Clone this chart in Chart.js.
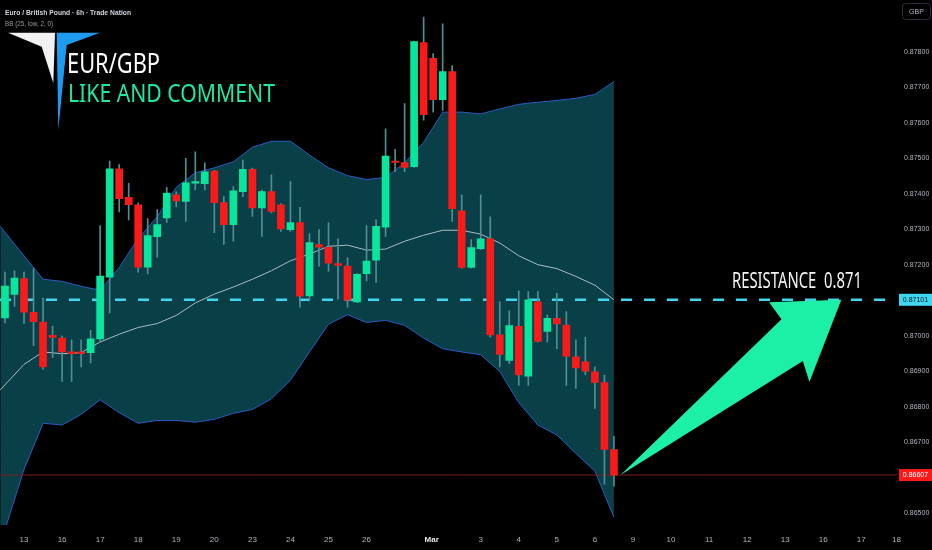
<!DOCTYPE html>
<html>
<head>
<meta charset="utf-8">
<title>EUR/GBP 6h</title>
<script src="https://cdn.jsdelivr.net/npm/chart.js@4.4.1/dist/chart.umd.min.js"></script>
<style>
html, body { margin:0; padding:0; background:#000; overflow:hidden; }
#canvas { display:block; }
</style>
</head>
<body>
<canvas id="canvas" width="932" height="550"></canvas>
<script>
// 6h candles, index 0 = first bar on the left
var opens  = [0.87050,0.87116,0.87161,0.87066,0.87038,0.87001,0.86993,0.86954,0.86954,0.86952,
              0.86991,0.87165,0.87470,0.87390,0.87369,0.87193,0.87279,0.87332,0.87397,0.87378,
              0.87430,0.87428,0.87464,0.87375,0.87313,0.87406,0.87469,0.87360,0.87406,0.87369,
              0.87299,0.87319,0.87112,0.87257,0.87249,0.87203,0.87196,0.87095,0.87175,0.87213,
              0.87306,0.87492,0.87488,0.87476,0.87826,0.87782,0.87665,0.87744,0.87352,0.87192,
              0.87245,0.87273,0.87002,0.86930,0.87026,0.86886,0.87095,0.87012,0.87049,0.87030,
              0.86940,0.86926,0.86898,0.86868,0.86679];
var highs  = [0.87179,0.87183,0.87179,0.87189,0.87106,0.87027,0.86999,0.86988,0.86988,0.87015,
              0.87310,0.87492,0.87482,0.87429,0.87374,0.87330,0.87355,0.87418,0.87405,0.87500,
              0.87518,0.87487,0.87466,0.87392,0.87420,0.87495,0.87472,0.87410,0.87453,0.87372,
              0.87434,0.87362,0.87288,0.87299,0.87318,0.87273,0.87220,0.87175,0.87310,0.87327,
              0.87583,0.87525,0.87654,0.87830,0.87898,0.87795,0.87879,0.87761,0.87397,0.87271,
              0.87397,0.87335,0.87095,0.87070,0.87126,0.87124,0.87124,0.87058,0.87119,0.87068,
              0.86988,0.86996,0.86912,0.86889,0.86716];
var lows   = [0.87036,0.87082,0.87034,0.86972,0.86905,0.86938,0.86871,0.86871,0.86912,0.86923,
              0.86981,0.87064,0.87349,0.87326,0.87179,0.87174,0.87221,0.87319,0.87363,0.87322,
              0.87411,0.87411,0.87290,0.87257,0.87266,0.87392,0.87336,0.87280,0.87346,0.87294,
              0.87294,0.87080,0.87098,0.87196,0.87182,0.87103,0.87080,0.87093,0.87154,0.87150,
              0.87280,0.87462,0.87462,0.87474,0.87607,0.87630,0.87635,0.87322,0.87190,0.87190,
              0.87243,0.86996,0.86912,0.86921,0.86860,0.86860,0.86982,0.86982,0.86963,0.86860,
              0.86851,0.86889,0.86795,0.86581,0.86576];
var closes = [0.87140,0.87162,0.87066,0.87039,0.86912,0.86995,0.86954,0.86949,0.86949,0.86991,
              0.87168,0.87470,0.87386,0.87369,0.87193,0.87282,0.87313,0.87402,0.87380,0.87431,
              0.87434,0.87462,0.87375,0.87313,0.87408,0.87469,0.87360,0.87406,0.87350,0.87301,
              0.87319,0.87111,0.87262,0.87249,0.87204,0.87198,0.87100,0.87173,0.87210,0.87308,
              0.87506,0.87488,0.87474,0.87829,0.87623,0.87665,0.87744,0.87358,0.87192,0.87248,
              0.87273,0.87002,0.86947,0.87028,0.86889,0.87101,0.86984,0.87049,0.87033,0.86942,
              0.86909,0.86900,0.86868,0.86679,0.86607];

// BB (25, low, 2, 0) every second bar
var bandIdx  = [-0.5,2,4,6,8,10,12,14,16,18,20,22,24,26,28,30,32,34,36,38,40,42,44,46,48,50,52,54,56,58,60,62,64];
var bbUpper  = [0.87308,0.87225,0.87159,0.87153,0.87139,0.87128,0.87192,0.87274,0.87335,0.87418,0.87459,
                0.87473,0.87490,0.87531,0.87548,0.87548,0.87509,0.87473,0.87451,0.87440,0.87446,0.87487,
                0.87545,0.87630,0.87630,0.87625,0.87639,0.87652,0.87658,0.87663,0.87669,0.87680,0.87716];
var bbMiddle = [0.86847,0.86919,0.86954,0.86949,0.86952,0.86982,0.87004,0.87023,0.87034,0.87057,0.87092,
                0.87117,0.87137,0.87159,0.87183,0.87211,0.87230,0.87252,0.87255,0.87241,0.87244,0.87266,
                0.87283,0.87297,0.87297,0.87286,0.87261,0.87225,0.87200,0.87189,0.87167,0.87142,0.87101];
var bbLower  = [0.86411,0.86623,0.86753,0.86748,0.86778,0.86819,0.86783,0.86753,0.86761,0.86761,0.86756,
                0.86764,0.86781,0.86792,0.86822,0.86874,0.86954,0.87032,0.87059,0.87037,0.87043,0.87029,
                0.86993,0.86963,0.86954,0.86946,0.86899,0.86811,0.86748,0.86720,0.86668,0.86618,0.86488];

var xTickIdx    = [2,6,10,14,18,22,26,30,34,38,44.85,50,54,58,62,66,70,74,78,82,86,90,93.7];
var xTickLabels = ['13','16','17','18','19','20','23','24','25','26','Mar','3','4','5','6','9','10','11','12','13','16','17','18'];
var yTickValues = [0.878,0.877,0.876,0.875,0.874,0.873,0.872,0.870,0.869,0.868,0.867,0.865];

var resistance = 0.87101;
var lastPrice = 0.86607;
var xMin = -0.525, xMax = 93.75;
var yMin = 0.864662, yMax = 0.879145;

var GREEN = '#08e69e';
var RED = '#fb1a1a';

var bodies = [], wicks = [], bodyColors = [];
for(var i = 0; i < opens.length; i++){
	bodies.push({x: i, y: [opens[i], closes[i]]});
	wicks.push({x: i, y: [lows[i], highs[i]]});
	bodyColors.push(closes[i] >= opens[i] ? GREEN : RED);
}
function band(vals){
	var r = [];
	for(var i = 0; i < bandIdx.length; i++) r.push({x: bandIdx[i], y: vals[i]});
	return r;
}

var bgPlugin = {
	id: 'bg',
	beforeDraw: function(chart){
		var c = chart.ctx;
		c.save();
		c.fillStyle = '#000';
		c.fillRect(0, 0, chart.width, chart.height);
		c.restore();
	}
};

function priceBox(c, y, txt, bg, fg){
	c.fillStyle = bg;
	c.fillRect(899, y - 6, 33, 12);
	c.fillStyle = fg;
	c.font = '7px "Liberation Sans"';
	c.textAlign = 'center';
	c.textBaseline = 'middle';
	c.fillText(txt, 915.5, y + 0.5);
}

var overlayPlugin = {
	id: 'overlay',
	afterDraw: function(chart){
		var c = chart.ctx;
		var xs = chart.scales.x, ys = chart.scales.y;
		c.save();

		// header
		c.textAlign = 'left';
		c.textBaseline = 'alphabetic';
		c.fillStyle = '#d1d4dc';
		c.font = 'bold 8px "Liberation Sans"';
		c.fillText('Euro / British Pound \u00b7 6h \u00b7 Trade Nation', 5, 15, 126);
		c.fillStyle = '#9598a1';
		c.font = '8px "Liberation Sans"';
		c.fillText('BB (25, low, 2, 0)', 5, 26, 48);

		// logo
		c.fillStyle = '#f2f2f2';
		c.beginPath();
		c.moveTo(8, 32.7); c.lineTo(55, 32.7); c.lineTo(53.3, 83); c.lineTo(41.7, 46.7);
		c.closePath(); c.fill();
		c.fillStyle = '#1e9af0';
		c.beginPath();
		c.moveTo(56.7, 32.7); c.lineTo(100, 32.7); c.lineTo(66.7, 45); c.lineTo(58.3, 130);
		c.closePath(); c.fill();

		c.fillStyle = '#ffffff';
		c.font = '28px "Noto Sans"';
		c.fillText('EUR/GBP', 67, 73, 93);
		c.fillStyle = '#1de9a6';
		c.font = '25px "Noto Sans"';
		c.fillText('LIKE AND COMMENT', 68, 101.5, 207);

		// arrow from last price to resistance
		var ax = xs.getPixelForValue(64.7), ay = ys.getPixelForValue(lastPrice);
		var bx = xs.getPixelForValue(87.9), by = ys.getPixelForValue(resistance);
		var dx = bx - ax, dy = by - ay, len = Math.sqrt(dx*dx + dy*dy);
		var ux = dx/len, uy = dy/len, nx = -uy, ny = ux;
		function pt(along, across){ return [ax + ux*along + nx*across, ay + uy*along + ny*across]; }
		var shape = [pt(0,0), pt(len*0.791,-22), pt(len*0.794,-43), pt(len,0), pt(len*0.73,44.5), pt(len*0.758,24)];
		c.fillStyle = '#1cf0a6';
		c.beginPath();
		c.moveTo(shape[0][0], shape[0][1]);
		for(var k = 1; k < shape.length; k++) c.lineTo(shape[k][0], shape[k][1]);
		c.closePath(); c.fill();

		c.fillStyle = '#f4f4f4';
		c.font = '21px "Noto Sans"';
		c.fillText('RESISTANCE  0.871', xs.getPixelForValue(76.4), by - 11.5, 130);

		// price scale extras
		priceBox(c, ys.getPixelForValue(resistance), resistance.toFixed(5), '#3fd6ef', '#061417');
		priceBox(c, ys.getPixelForValue(lastPrice), lastPrice.toFixed(5), RED, '#ffffff');

		c.strokeStyle = '#2a2e39';
		c.lineWidth = 1;
		c.beginPath();
		c.roundRect(902.5, 3.5, 28, 16, 3);
		c.stroke();
		c.fillStyle = '#b2b5be';
		c.font = '7px "Liberation Sans"';
		c.textAlign = 'center';
		c.textBaseline = 'middle';
		c.fillText('GBP', 916.5, 12);
		c.restore();
	}
};

var ctx = document.getElementById('canvas').getContext('2d');
window.myChart = new Chart(ctx, {
	type: 'bar',
	data: {
		datasets: [{
			type: 'line',
			data: band(bbUpper),
			borderColor: '#2a5bc4',
			borderWidth: 1,
			pointRadius: 0,
			fill: '+2',
			backgroundColor: '#093f47',
			order: 10
		},{
			type: 'line',
			data: band(bbMiddle),
			borderColor: '#a8bcc2',
			borderWidth: 1,
			pointRadius: 0,
			fill: false,
			order: 9
		},{
			type: 'line',
			data: band(bbLower),
			borderColor: '#2a5bc4',
			borderWidth: 1,
			pointRadius: 0,
			fill: false,
			order: 9
		},{
			type: 'line',
			data: [{x: xMin, y: lastPrice}, {x: xMax, y: lastPrice}],
			borderColor: '#7a1c1c',
			borderWidth: 1,
			pointRadius: 0,
			order: 8
		},{
			type: 'line',
			data: [{x: xMin, y: resistance}, {x: xMax, y: resistance}],
			borderColor: '#3fd6ef',
			borderWidth: 2.5,
			borderDash: [11, 12],
			pointRadius: 0,
			order: 3
		},{
			data: wicks,
			backgroundColor: '#4f8f93',
			barThickness: 1,
			grouped: false,
			order: 2
		},{
			data: bodies,
			backgroundColor: bodyColors,
			barThickness: 7,
			minBarLength: 1.5,
			grouped: false,
			order: 1
		}]
	},
	options: {
		responsive: false,
		animation: false,
		layout: { padding: 0 },
		plugins: {
			legend: { display: false },
			tooltip: { enabled: false }
		},
		scales: {
			x: {
				type: 'linear',
				offset: false,
				min: xMin,
				max: xMax,
				grid: { display: false, drawTicks: false, offset: false },
				border: { display: false },
				afterBuildTicks: function(s){ s.ticks = xTickIdx.map(function(v){ return {value: v}; }); },
				afterFit: function(s){ s.height = 25; },
				ticks: {
					autoSkip: false,
					maxRotation: 0,
					padding: 10,
					callback: function(v, i){ return xTickLabels[i]; },
					color: function(c){ return xTickLabels[c.index] === 'Mar' ? '#e8e8e8' : '#b2b5be'; },
					font: function(c){
						return { size: 8, family: 'Liberation Sans', weight: xTickLabels[c.index] === 'Mar' ? 'bold' : 'normal' };
					}
				}
			},
			y: {
				position: 'right',
				min: yMin,
				max: yMax,
				grid: { display: false, drawTicks: false },
				border: { display: false },
				afterBuildTicks: function(s){ s.ticks = yTickValues.map(function(v){ return {value: v}; }); },
				afterFit: function(s){ s.width = 35; },
				ticks: {
					padding: 7,
					color: '#b2b5be',
					font: { size: 7, family: 'Liberation Sans' },
					callback: function(v){ return v.toFixed(5); }
				}
			}
		}
	},
	plugins: [bgPlugin, overlayPlugin]
});
</script>
</body>
</html>
